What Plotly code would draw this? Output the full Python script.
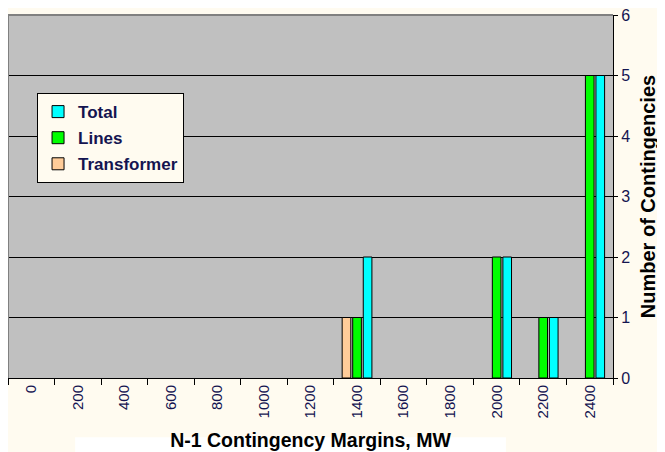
import plotly.graph_objects as go

categories = ["0", "200", "400", "600", "800", "1000", "1200", "1400",
              "1600", "1800", "2000", "2200", "2400"]
transformer = [0, 0, 0, 0, 0, 0, 0, 1, 0, 0, 0, 0, 0]
lines = [0, 0, 0, 0, 0, 0, 0, 1, 0, 0, 2, 1, 5]
total = [0, 0, 0, 0, 0, 0, 0, 2, 0, 0, 2, 1, 5]

# bar order in each group, plus legend rank (Total listed first)
series = [
    ("Transformer", transformer, "#FFCC99", 3),
    ("Lines", lines, "#00FF00", 2),
    ("Total", total, "#00FFFF", 1),
]

navy = "#141450"
font = "Arial, Liberation Sans, sans-serif"

fig = go.Figure()
for name, vals, color, rank in series:
    # empty cells are left blank, like the source chart
    fig.add_trace(go.Bar(
        x=categories, y=[v if v else None for v in vals], name=name,
        legendgroup=name, legendrank=rank,
        marker=dict(color=color, line=dict(color="black", width=1)),
    ))

# page body has an 8px default margin, so everything is shifted up/left
fig.update_layout(
    width=665, height=444,
    margin=dict(l=0, r=60, t=7, b=74),
    paper_bgcolor="#FFFBF0",
    plot_bgcolor="#C0C0C0",
    barmode="group",
    bargap=0.32,
    bargroupgap=0.18,
    font=dict(family=font, color=navy),
    legend=dict(
        x=0.048, y=0.785, xanchor="left", yanchor="top",
        bgcolor="#FFFBF0", bordercolor="black", borderwidth=1,
        tracegroupgap=1,
        font=dict(family=font, size=17, color=navy, weight="bold"),
    ),
    xaxis=dict(
        type="category", tickson="boundaries", ticks="outside", ticklen=6,
        tickcolor="black", showline=True, linecolor="black", linewidth=1,
        tickangle=-90, tickfont=dict(size=15, color=navy),
        showgrid=False,
        title=dict(text="<b>N-1 Contingency Margins, MW</b>",
                   font=dict(size=19.5, color="black"), standoff=15),
    ),
    yaxis=dict(
        side="right", range=[0, 6], dtick=1, ticks="outside", ticklen=4,
        tickcolor="black", showline=True, linecolor="black", linewidth=1,
        showgrid=True, gridcolor="black", gridwidth=1, zeroline=False,
        tickfont=dict(size=16, color=navy), ticklabeloverflow="allow",
        title=dict(text="<b>Number of Contingencies</b>",
                   font=dict(size=20, color="black"), standoff=11),
    ),
    shapes=[
        dict(type="line", xref="paper", yref="paper", x0=0, x1=1, y0=1, y1=1,
             line=dict(color="#808080", width=2)),
        dict(type="line", xref="paper", yref="paper", x0=0, x1=0, y0=0, y1=1,
             line=dict(color="#808080", width=2)),
        dict(type="rect", xref="paper", yref="paper", x0=0.111, x1=0.823,
             y0=-0.205, y1=-0.163, fillcolor="white", line=dict(width=0),
             layer="below"),
    ],
)

fig.write_html("out.html")
